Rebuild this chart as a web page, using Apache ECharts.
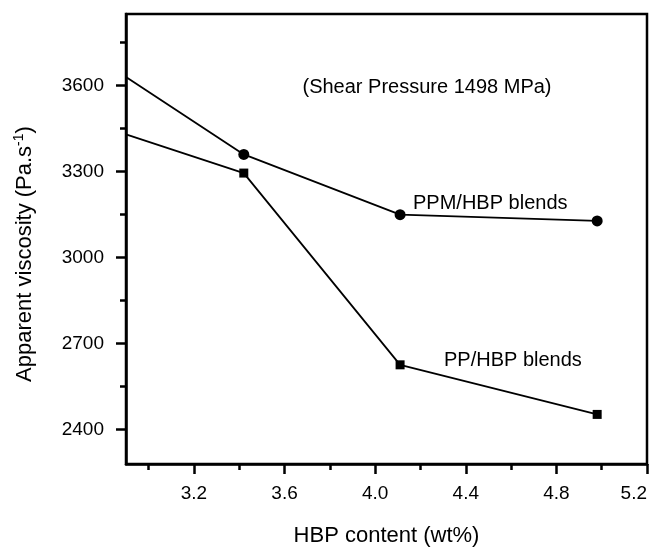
<!DOCTYPE html>
<html>
<head>
<meta charset="utf-8">
<script src="https://cdn.jsdelivr.net/npm/echarts@6/dist/echarts.min.js"></script>
<style>
  html, body { margin: 0; padding: 0; background: #fff; }
  #chart { width: 654px; height: 548px; }
</style>
</head>
<body>
<div id="chart"></div>
<script>
// first x is the left edge of the frame, the lines come in from outside
var hbpContent = [2.9, 3.42, 4.11, 4.98];
var ppmViscosity = [3630, 3360, 3150, 3128];
var ppViscosity = [3430, 3295, 2626, 2453];

var xMajorTicks = [3.2, 3.6, 4.0, 4.4, 4.8, 5.2];
var xMinorTicks = [3.0, 3.4, 3.8, 4.2, 4.6, 5.0];
var yMajorTicks = [2400, 2700, 3000, 3300, 3600];
var yMinorTicks = [2550, 2850, 3150, 3450, 3750];

var font = "Liberation Sans, Arial, sans-serif";

function toPoints(ys) {
  return ys.map(function(y, i) {
    var p = { value: [hbpContent[i], y] };
    if (i == 0) p.symbol = "none";
    return p;
  });
}

var chart = echarts.init(document.getElementById("chart"));
chart.setOption({
  animation: false,
  backgroundColor: "#fff",
  grid: {
    left: 126, top: 14, right: 7, bottom: 84,
    outerBoundsMode: "none", containLabel: false,
    show: true, borderColor: "#000", borderWidth: 2.5
  },
  xAxis: [
    {
      type: "value", min: 2.9, max: 5.2,
      name: "HBP content (wt%)", nameLocation: "middle", nameGap: 61,
      nameTextStyle: { fontFamily: font, fontSize: 22, color: "#000" },
      axisLine: { show: true, lineStyle: { color: "#000", width: 2.5 } },
      axisTick: { show: true, customValues: xMajorTicks, length: 10, lineStyle: { color: "#000", width: 2.5 } },
      axisLabel: {
        customValues: xMajorTicks, margin: 20, fontFamily: font, fontSize: 19, color: "#000",
        alignMaxLabel: "right",
        formatter: function(v) { return v.toFixed(1); }
      },
      splitLine: { show: false }
    },
    {
      type: "value", min: 2.9, max: 5.2, position: "bottom",
      axisLine: { show: false },
      axisTick: { show: true, customValues: xMinorTicks, length: 6, lineStyle: { color: "#000", width: 2.5 } },
      axisLabel: { show: false },
      splitLine: { show: false }
    }
  ],
  yAxis: [
    {
      type: "value", min: 2280, max: 3850,
      name: "Apparent viscosity (Pa.s{sup|-1})", nameLocation: "middle", nameGap: 89, nameRotate: 90,
      nameTextStyle: {
        fontFamily: font, fontSize: 22, color: "#000", padding: [0, 30, 0, 0],
        rich: { sup: { fontFamily: font, fontSize: 14, color: "#000", verticalAlign: "top", padding: [0, 0, 11, 0] } }
      },
      axisLine: { show: true, lineStyle: { color: "#000", width: 2.5 } },
      axisTick: { show: true, customValues: yMajorTicks, length: 10, lineStyle: { color: "#000", width: 2.5 } },
      axisLabel: {
        customValues: yMajorTicks, margin: 22, fontFamily: font, fontSize: 19, color: "#000",
        formatter: function(v) { return String(v); }
      },
      splitLine: { show: false }
    },
    {
      type: "value", min: 2280, max: 3850, position: "left",
      axisLine: { show: false },
      axisTick: { show: true, customValues: yMinorTicks, length: 6, lineStyle: { color: "#000", width: 2.5 } },
      axisLabel: { show: false },
      splitLine: { show: false }
    }
  ],
  series: [
    {
      name: "PPM/HBP blends", type: "line",
      symbol: "circle", symbolSize: 11,
      itemStyle: { color: "#000" },
      lineStyle: { color: "#000", width: 1.8 },
      data: toPoints(ppmViscosity)
    },
    {
      name: "PP/HBP blends", type: "line",
      symbol: "rect", symbolSize: 9,
      itemStyle: { color: "#000" },
      lineStyle: { color: "#000", width: 1.8 },
      data: toPoints(ppViscosity)
    }
  ],
  graphic: [
    {
      type: "text", x: 427, y: 87,
      style: { text: "(Shear Pressure 1498 MPa)", font: "20px " + font, fill: "#000", align: "center", verticalAlign: "middle" }
    },
    {
      type: "text", x: 413, y: 203,
      style: { text: "PPM/HBP blends", font: "20px " + font, fill: "#000", align: "left", verticalAlign: "middle" }
    },
    {
      type: "text", x: 444, y: 360,
      style: { text: "PP/HBP blends", font: "20px " + font, fill: "#000", align: "left", verticalAlign: "middle" }
    }
  ]
});
</script>
</body>
</html>
